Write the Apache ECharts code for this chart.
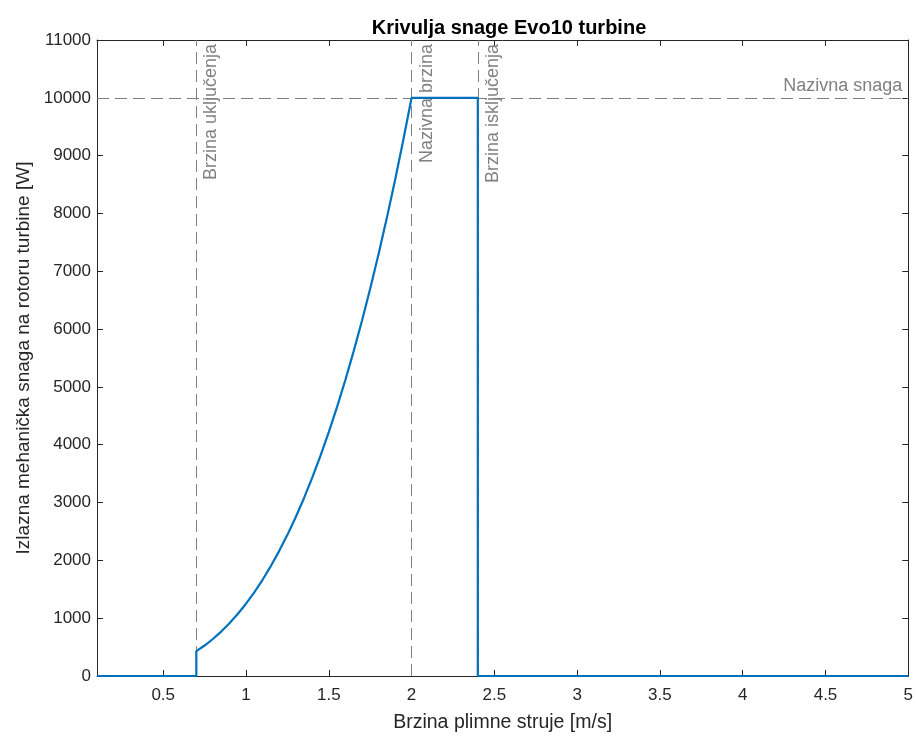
<!DOCTYPE html>
<html>
<head>
<meta charset="utf-8">
<script src="https://cdn.jsdelivr.net/npm/echarts@6/dist/echarts.min.js"></script>
<style>
html,body{margin:0;padding:0;background:#fff;}
#chart{width:916px;height:738px;}
</style>
</head>
<body>
<div id="chart"></div>
<script>
// Data
const speed = [0.1, 0.7, 0.7, 0.75, 0.8, 0.85, 0.9, 0.95, 1.0, 1.05, 1.1, 1.15, 1.2, 1.25, 1.3, 1.35, 1.4, 1.45, 1.5, 1.55, 1.6, 1.65, 1.7, 1.75, 1.8, 1.85, 1.9, 1.95, 2.0, 2.4, 2.4, 5.0];
const power = [0, 0, 429, 527, 640, 768, 911, 1072, 1250, 1447, 1664, 1901, 2160, 2441, 2746, 3075, 3430, 3811, 4219, 4655, 5120, 5615, 6141, 6699, 7290, 7915, 8574, 9269, 10000, 10000, 0, 0];
const xTicks = [0.5, 1, 1.5, 2, 2.5, 3, 3.5, 4, 4.5, 5];
const vLineX = [0.7, 2.0, 2.4];
const vLineLabels = ['Brzina uključenja', 'Nazivna brzina', 'Brzina isključenja'];
const hLineY = [10000];
const hLineLabels = ['Nazivna snaga'];

const FONT = '"Liberation Sans", Arial, Helvetica, sans-serif';
const AX = '#262626';
const GRAY = '#808080';
const dashStyle = {color: GRAY, type: [12, 6], width: 1};

const chart = echarts.init(document.getElementById('chart'), null, {renderer: 'canvas'});
const pts = speed.map((v, i) => [v, power[i]]);

const markData = vLineX.map((x, i) => ({
  xAxis: x,
  lineStyle: dashStyle,
  label: {formatter: vLineLabels[i], position: 'insideEndBottom', distance: [4, 6]}
})).concat(hLineY.map((y, i) => ({
  yAxis: y,
  lineStyle: dashStyle,
  label: {formatter: hLineLabels[i], position: 'insideEndTop', distance: [6, 3]}
})));

chart.setOption({
  animation: false,
  title: {
    text: 'Krivulja snage Evo10 turbine',
    left: 504, top: 13, textAlign: 'center',
    textStyle: {fontFamily: FONT, fontSize: 20, fontWeight: 'bold', color: '#000'}
  },
  grid: {left: 97, right: 6, top: 40, bottom: 58, containLabel: false},
  xAxis: [{
    type: 'value', min: 0.1, max: 5,
    name: 'Brzina plimne struje [m/s]', nameLocation: 'middle', nameGap: 37,
    nameTextStyle: {fontFamily: FONT, fontSize: 19.5, color: AX},
    axisLine: {show: true, onZero: false, lineStyle: {color: AX, width: 1}},
    axisTick: {show: true, inside: true, length: 6, customValues: xTicks, lineStyle: {color: AX}},
    axisLabel: {customValues: xTicks, fontFamily: FONT, fontSize: 17, color: AX, margin: 11},
    splitLine: {show: false}
  }, {
    type: 'value', min: 0.1, max: 5, position: 'top',
    axisLine: {show: true, onZero: false, lineStyle: {color: AX, width: 1}},
    axisTick: {show: true, inside: true, length: 6, customValues: xTicks, lineStyle: {color: AX}},
    axisLabel: {show: false},
    splitLine: {show: false}
  }],
  yAxis: [{
    type: 'value', min: 0, max: 11000, interval: 1000,
    name: 'Izlazna mehanička snaga na rotoru turbine [W]', nameLocation: 'middle', nameGap: 64,
    nameTextStyle: {fontFamily: FONT, fontSize: 19, color: AX},
    axisLine: {show: true, onZero: false, lineStyle: {color: AX, width: 1}},
    axisTick: {show: true, inside: true, length: 6, lineStyle: {color: AX}},
    axisLabel: {fontFamily: FONT, fontSize: 17, color: AX, margin: 6, formatter: v => String(v)},
    splitLine: {show: false}
  }, {
    type: 'value', min: 0, max: 11000, interval: 1000, position: 'right',
    axisLine: {show: true, onZero: false, lineStyle: {color: AX, width: 1}},
    axisTick: {show: true, inside: true, length: 6, lineStyle: {color: AX}},
    axisLabel: {show: false},
    splitLine: {show: false}
  }],
  series: [{
    type: 'line',
    data: [],
    z: 1,
    silent: true,
    markLine: {
      silent: true,
      symbol: ['none', 'none'],
      lineStyle: dashStyle,
      label: {fontFamily: FONT, fontSize: 18, color: GRAY},
      emphasis: {disabled: true},
      data: markData
    }
  }, {
    type: 'line',
    data: pts,
    showSymbol: false,
    symbol: 'none',
    lineStyle: {color: '#0072BD', width: 2.2},
    z: 5
  }]
});
</script>
</body>
</html>
